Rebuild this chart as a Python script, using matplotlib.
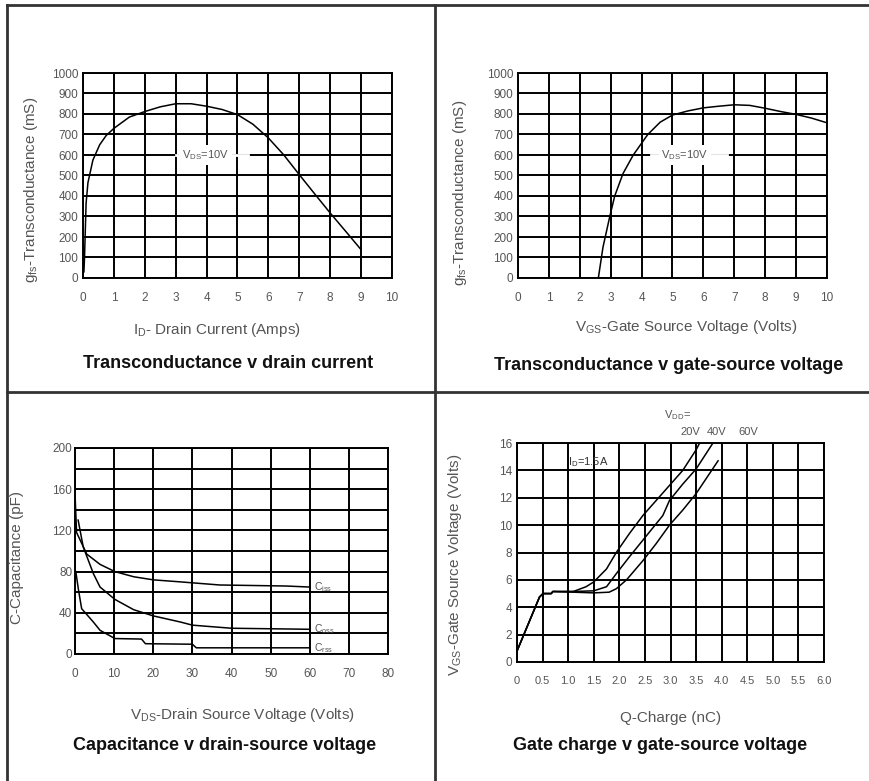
import matplotlib.pyplot as plt
from matplotlib.lines import Line2D
from matplotlib.ticker import MultipleLocator

plt.rcParams['font.family'] = ['Liberation Sans', 'DejaVu Sans']
plt.rcParams['mathtext.default'] = 'regular'

# transconductance v drain current
id_amps = [0.03, 0.05, 0.1, 0.16, 0.32, 0.54, 0.75, 1.0, 1.5, 2.0, 2.5, 3.0, 3.5,
           4.0, 4.5, 5.0, 5.5, 6.0, 6.5, 7.0, 7.5, 8.0, 8.5, 9.0]
gfs_id = [30, 105, 365, 465, 575, 650, 695, 730, 785, 812, 835, 850, 850,
          838, 822, 797, 750, 683, 600, 504, 410, 317, 228, 138]

# transconductance v gate-source voltage
vgs = [2.6, 2.75, 2.97, 3.13, 3.4, 3.73, 4.2, 4.6, 5.0, 5.5, 6.0, 6.5, 7.0,
       7.5, 8.0, 8.5, 9.0, 9.5, 10.0]
gfs_vgs = [0, 150, 300, 400, 510, 600, 700, 760, 795, 815, 830, 838, 845,
           842, 828, 812, 798, 780, 757]

# capacitance v drain-source voltage
ciss_v = [0, 0.4, 3, 6.4, 10.2, 15, 20, 27, 37, 54, 60]
ciss_c = [156, 118, 97, 87, 80, 75, 72, 70, 67, 66, 65]
coss_v = [0.8, 2.1, 4.7, 6.4, 10.2, 15, 20, 27, 30, 40, 60]
coss_c = [130, 104, 78, 65, 53, 43, 37, 31, 28, 25, 24]
crss_v = [0.2, 0.9, 1.7, 4.7, 6.4, 10.2, 17, 18, 30, 31, 60]
crss_c = [80, 62, 44, 31, 23, 15, 14.5, 10, 9.5, 6, 6]
cap_names = ['C$_{iss}$', 'C$_{oss}$', 'C$_{rss}$']

# gate charge v gate-source voltage
q_start = [0, 0.44, 0.51, 0.67, 0.7]
v_start = [0.8, 4.75, 5.0, 5.0, 5.15]
q_20 = [1.1, 1.35, 1.5, 1.75, 1.94, 2.2, 2.46, 2.72, 2.98, 3.24, 3.5, 3.57]
v_20 = [5.15, 5.5, 5.85, 6.8, 8.0, 9.4, 10.7, 11.8, 12.9, 14.0, 15.5, 16.0]
q_40 = [1.1, 1.5, 1.75, 1.94, 2.2, 2.46, 2.59, 2.85, 2.98, 3.24, 3.5, 3.83]
v_40 = [5.15, 5.2, 5.5, 6.45, 7.7, 8.9, 9.5, 10.7, 11.8, 13.0, 14.1, 16.0]
q_60 = [1.1, 1.5, 1.8, 1.94, 2.14, 2.46, 2.72, 2.98, 3.24, 3.5, 3.93]
v_60 = [5.1, 5.05, 5.1, 5.35, 6.0, 7.4, 8.65, 10.0, 11.1, 12.3, 14.7]
vdd_labels = ['20V', '40V', '60V']

W, H = 870, 781
fig = plt.figure(figsize=(W / 100, H / 100), dpi=100)


def box(l, t, r, b):
    return [l / W, 1 - b / H, (r - l) / W, (b - t) / H]


def grid_axes(pos):
    ax = fig.add_axes(pos)
    ax.grid(True, which='both', color='black', lw=1.4)
    ax.set_axisbelow(True)
    for s in ax.spines.values():
        s.set_linewidth(1.4)
    ax.tick_params(which='both', length=0, labelsize=8.5, labelcolor='#555')
    ax.tick_params(axis='x', pad=10)
    ax.tick_params(axis='y', pad=3.5)
    return ax


def ftext(x, y, s, **kw):
    fig.text(x / W, 1 - y / H, s, ha='center', va='center', **kw)


small = dict(fontsize=8, color='#555', ha='center', va='center')
gap = dict(facecolor='white', edgecolor='none', boxstyle='square,pad=0.25')

# panel 1
ax1 = grid_axes(box(83, 73, 392, 278))
ax1.plot(id_amps, gfs_id, color='black', lw=1.1)
ax1.set_xlim(0, 10)
ax1.set_ylim(0, 1000)
ax1.xaxis.set_major_locator(MultipleLocator(1))
ax1.yaxis.set_major_locator(MultipleLocator(100))
ax1.text(3.97, 600, 'V$_{DS}$=10V', bbox=gap, **small)
ax1.axhline(600, xmin=0.3, xmax=0.33, color='white', lw=2)
ax1.axhline(600, xmin=0.47, xmax=0.535, color='white', lw=2)

# panel 2
ax2 = grid_axes(box(518, 73, 827, 278))
ax2.plot(vgs, gfs_vgs, color='black', lw=1.1)
ax2.set_xlim(0, 10)
ax2.set_ylim(0, 1000)
ax2.xaxis.set_major_locator(MultipleLocator(1))
ax2.yaxis.set_major_locator(MultipleLocator(100))
ax2.text(5.4, 600, 'V$_{DS}$=10V', bbox=gap, **small)
ax2.axhline(600, xmin=0.43, xmax=0.46, color='white', lw=2)
ax2.axhline(600, xmin=0.62, xmax=0.675, color='white', lw=2)

# panel 3
ax3 = grid_axes(box(75, 448, 388, 654))
for xs, ys, name in zip([ciss_v, coss_v, crss_v], [ciss_c, coss_c, crss_c], cap_names):
    ax3.plot(xs, ys, color='black', lw=1.1)
    ax3.text(61, ys[-1], name, fontsize=7.5, color='#555', ha='left', va='center')
ax3.set_xlim(0, 80)
ax3.set_ylim(0, 200)
ax3.xaxis.set_major_locator(MultipleLocator(10))
ax3.yaxis.set_major_locator(MultipleLocator(40))
ax3.yaxis.set_minor_locator(MultipleLocator(20))
ax3.tick_params(axis='y', pad=2)

# panel 4
ax4 = grid_axes(box(517, 443, 824, 662))
for qs, vs in zip([q_20, q_40, q_60], [v_20, v_40, v_60]):
    ax4.plot(q_start + qs, v_start + vs, color='black', lw=1.1, clip_on=False)
ax4.set_xlim(0, 6)
ax4.set_ylim(0, 16)
ax4.yaxis.set_major_locator(MultipleLocator(2))
ax4.set_xticks([i * 0.5 for i in range(13)])
ax4.set_xticklabels(['0'] + ['%.1f' % (i * 0.5) for i in range(1, 13)])
ax4.tick_params(axis='x', labelsize=8)
ax4.text(1.0, 14.6, 'I$_D$=1.5A', fontsize=8, color='#333', ha='left', va='center')
ax4.text(3.13, 18.05, 'V$_{DD}$=', **small)
for x, lab in zip([3.38, 3.91, 4.52], vdd_labels):
    ax4.text(x, 16.8, lab, **small)

# axis labels and titles
lab_kw = dict(fontsize=11, color='#555')
ftext(31, 190, 'g$_{fs}$-Transconductance (mS)', rotation=90, **lab_kw)
ftext(460, 193, 'g$_{fs}$-Transconductance (mS)', rotation=90, **lab_kw)
ftext(17, 557, 'C-Capacitance (pF)', rotation=90, **lab_kw)
ftext(455, 565, 'V$_{GS}$-Gate Source Voltage (Volts)', rotation=90, **lab_kw)
ftext(217, 330, 'I$_D$- Drain Current (Amps)', **lab_kw)
ftext(686, 327, 'V$_{GS}$-Gate Source Voltage (Volts)', **lab_kw)
ftext(242, 715, 'V$_{DS}$-Drain Source Voltage (Volts)', **lab_kw)
ftext(671, 718, 'Q-Charge (nC)', **lab_kw)

title_kw = dict(fontsize=13, fontweight='bold', color='#111')
ftext(228, 363, 'Transconductance v drain current', **title_kw)
ftext(669, 365, 'Transconductance v gate-source voltage', **title_kw)
ftext(225, 745, 'Capacitance v drain-source voltage', **title_kw)
ftext(660, 745, 'Gate charge v gate-source voltage', **title_kw)

# frame around the four panels
frame_kw = dict(color='#333', lw=2, transform=fig.transFigure)
fig.add_artist(Line2D([7 / W, 1], [1 - 5 / H, 1 - 5 / H], **frame_kw))
fig.add_artist(Line2D([7 / W, 7 / W], [0, 1 - 5 / H], **frame_kw))
fig.add_artist(Line2D([435 / W, 435 / W], [0, 1 - 5 / H], **frame_kw))
fig.add_artist(Line2D([7 / W, 1], [1 - 392 / H, 1 - 392 / H], **frame_kw))

fig.savefig('out.png', dpi=100)
